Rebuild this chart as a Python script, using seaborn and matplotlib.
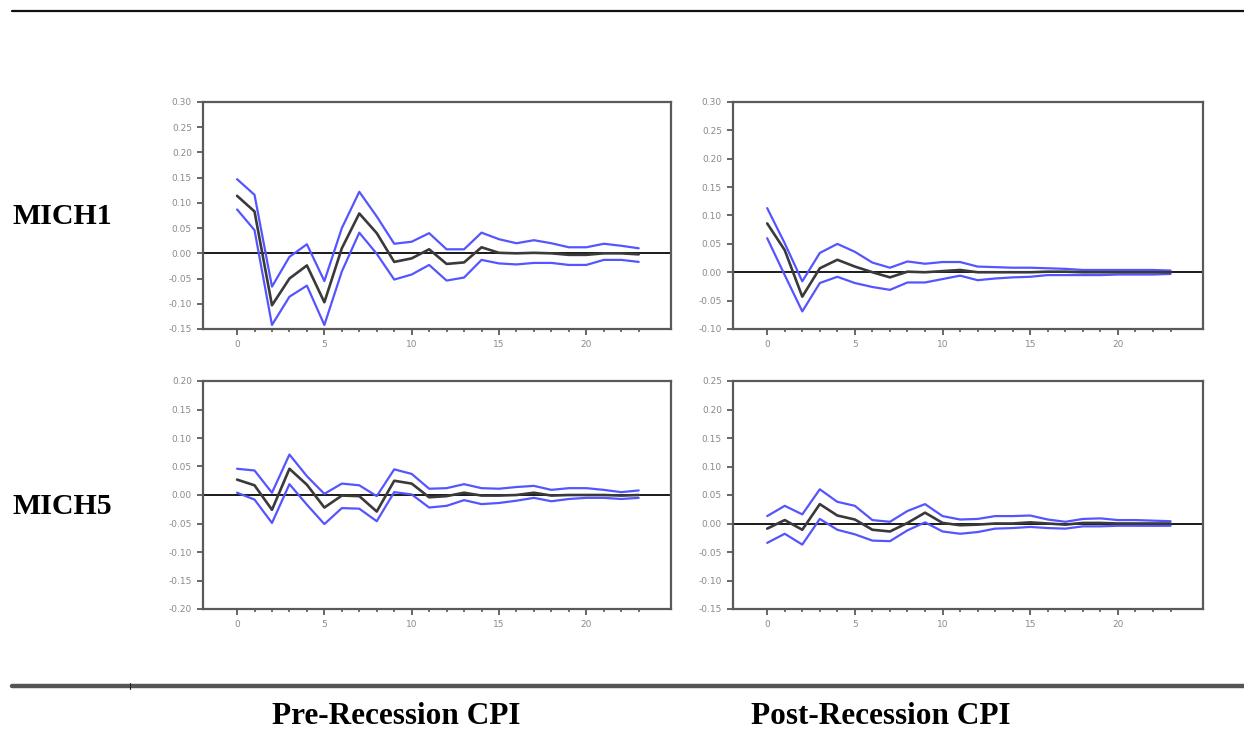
import numpy as np
import pandas as pd
import matplotlib
matplotlib.use("Agg")
import matplotlib.pyplot as plt
from matplotlib.lines import Line2D
from matplotlib.ticker import MultipleLocator, FormatStrFormatter
import seaborn as sns

horizon = list(range(24))

# MICH1, Pre-Recession CPI
m1_pre_mid = [0.114, 0.083, -0.103, -0.050, -0.024, -0.097, 0.010, 0.079, 0.040, -0.017, -0.010, 0.008,
              -0.021, -0.018, 0.012, 0.001, 0.000, 0.001, 0.000, -0.003, -0.003, 0.000, 0.000, -0.002]
m1_pre_up = [0.147, 0.116, -0.066, -0.007, 0.018, -0.055, 0.050, 0.122, 0.073, 0.019, 0.023, 0.040,
             0.008, 0.008, 0.041, 0.028, 0.020, 0.026, 0.020, 0.012, 0.012, 0.019, 0.015, 0.010]
m1_pre_lo = [0.087, 0.046, -0.142, -0.086, -0.064, -0.142, -0.036, 0.041, -0.001, -0.052, -0.042, -0.023,
             -0.054, -0.048, -0.013, -0.020, -0.022, -0.019, -0.019, -0.023, -0.023, -0.013, -0.013, -0.017]

# MICH1, Post-Recession CPI
m1_post_mid = [0.086, 0.039, -0.043, 0.007, 0.022, 0.010, 0.000, -0.009, 0.001, 0.000, 0.002, 0.004,
               0.000, 0.000, 0.000, 0.000, 0.001, 0.001, 0.000, 0.000, 0.000, 0.000, 0.000, 0.000]
m1_post_up = [0.113, 0.051, -0.016, 0.034, 0.050, 0.036, 0.017, 0.008, 0.019, 0.015, 0.018, 0.018,
              0.010, 0.009, 0.008, 0.008, 0.007, 0.006, 0.004, 0.004, 0.004, 0.004, 0.004, 0.003]
m1_post_lo = [0.060, -0.005, -0.069, -0.019, -0.008, -0.019, -0.026, -0.031, -0.018, -0.018, -0.012, -0.006,
              -0.014, -0.011, -0.009, -0.008, -0.005, -0.005, -0.005, -0.005, -0.004, -0.004, -0.004, -0.003]

# MICH5, Pre-Recession CPI
m5_pre_mid = [0.027, 0.017, -0.026, 0.046, 0.018, -0.022, -0.001, -0.002, -0.029, 0.025, 0.020, -0.004,
              -0.002, 0.004, -0.001, -0.001, 0.000, 0.004, -0.001, 0.000, 0.000, 0.000, -0.001, 0.000]
m5_pre_up = [0.046, 0.043, 0.004, 0.071, 0.033, 0.002, 0.020, 0.017, -0.002, 0.045, 0.037, 0.011,
             0.012, 0.019, 0.012, 0.011, 0.014, 0.016, 0.009, 0.012, 0.012, 0.009, 0.005, 0.008]
m5_pre_lo = [0.004, -0.008, -0.049, 0.019, -0.017, -0.051, -0.023, -0.024, -0.046, 0.005, 0.001, -0.022,
             -0.019, -0.009, -0.016, -0.014, -0.010, -0.005, -0.011, -0.007, -0.005, -0.005, -0.007, -0.005]

# MICH5, Post-Recession CPI
m5_post_mid = [-0.009, 0.006, -0.011, 0.034, 0.014, 0.007, -0.011, -0.014, 0.001, 0.019, 0.001, -0.003,
               -0.002, 0.000, 0.000, 0.002, 0.000, -0.002, 0.001, 0.001, 0.000, 0.000, 0.000, 0.000]
m5_post_up = [0.013, 0.031, 0.016, 0.060, 0.038, 0.031, 0.006, 0.003, 0.022, 0.034, 0.013, 0.007,
              0.008, 0.013, 0.013, 0.014, 0.007, 0.003, 0.008, 0.009, 0.006, 0.006, 0.005, 0.004]
m5_post_lo = [-0.034, -0.018, -0.037, 0.008, -0.011, -0.019, -0.030, -0.031, -0.012, 0.002, -0.014, -0.018,
              -0.015, -0.009, -0.008, -0.006, -0.008, -0.009, -0.005, -0.005, -0.004, -0.004, -0.004, -0.004]

row_labels = ["MICH1", "MICH5"]
col_labels = ["Pre-Recession CPI", "Post-Recession CPI"]
y_limits = [(-0.15, 0.30), (-0.10, 0.30), (-0.20, 0.20), (-0.15, 0.25)]

panels = [
    (m1_pre_mid, m1_pre_up, m1_pre_lo),
    (m1_post_mid, m1_post_up, m1_post_lo),
    (m5_pre_mid, m5_pre_up, m5_pre_lo),
    (m5_post_mid, m5_post_up, m5_post_lo),
]

sns.set_style("white")
plt.rcParams["font.family"] = ["DejaVu Sans"]

fig = plt.figure(figsize=(12.44, 7.31), dpi=100)

W, H = 1244, 731
boxes = [
    (203, 102, 671, 329),
    (733, 102, 1203, 329),
    (203, 381, 671, 609),
    (733, 381, 1203, 609),
]

frame_col = "#5a5a5a"
tick_col = "#8a8a8a"

for i, ((x0, y0, x1, y1), (mid, up, lo), ylim) in enumerate(zip(boxes, panels, y_limits)):
    ax = fig.add_axes([x0 / W, 1 - y1 / H, (x1 - x0) / W, (y1 - y0) / H])
    df = pd.DataFrame({"h": horizon, "mid": mid, "up": up, "lo": lo})
    ax.axhline(0, color="#1a1a1a", lw=1.4, zorder=1)
    sns.lineplot(data=df, x="h", y="up", ax=ax, color="#5555ff", lw=1.6, zorder=2)
    sns.lineplot(data=df, x="h", y="lo", ax=ax, color="#5555ff", lw=1.6, zorder=2)
    sns.lineplot(data=df, x="h", y="mid", ax=ax, color="#3a3a3a", lw=1.9, zorder=3)
    ax.set_xlim(-1.95, 24.85)
    ax.set_ylim(*ylim)
    ax.set_xlabel("")
    ax.set_ylabel("")
    ax.xaxis.set_major_locator(MultipleLocator(5))
    ax.yaxis.set_major_locator(MultipleLocator(0.05))
    ax.yaxis.set_major_formatter(FormatStrFormatter("%.2f"))
    ax.tick_params(axis="both", which="major", direction="out", length=4, width=1.3,
                   color=frame_col, labelsize=6.5, labelcolor=tick_col, pad=4,
                   bottom=True, left=True)
    ax.tick_params(axis="x", which="minor", direction="out", length=2.5, width=1.2,
                   color=frame_col, bottom=True)
    ax.set_xticks(horizon, minor=True)
    ax.set_xticks([0, 5, 10, 15, 20])
    for s in ax.spines.values():
        s.set_color(frame_col)
        s.set_linewidth(1.6)
        s.set_visible(True)

# Rules
fig.add_artist(Line2D([12 / W, 1.0], [1 - 10.5 / H, 1 - 10.5 / H], color="#111111", lw=1.6))
fig.add_artist(Line2D([12 / W, 1.0], [1 - 686 / H, 1 - 686 / H], color="#555555", lw=3.2))
fig.add_artist(Line2D([130 / W, 130 / W], [1 - 683 / H, 1 - 689 / H], color="#222222", lw=0.8))

serif = ["Liberation Serif", "DejaVu Serif"]
fig.text(12 / W, 1 - 216 / H, row_labels[0], family=serif, fontweight="bold", fontsize=21.5,
         ha="left", va="center", color="black")
fig.text(12 / W, 1 - 506 / H, row_labels[1], family=serif, fontweight="bold", fontsize=21.5,
         ha="left", va="center", color="black")
fig.text(396 / W, 1 - 716 / H, col_labels[0], family=serif, fontweight="bold", fontsize=22.5,
         ha="center", va="center", color="black")
fig.text(881 / W, 1 - 716 / H, col_labels[1], family=serif, fontweight="bold", fontsize=22.5,
         ha="center", va="center", color="black")

fig.savefig("out.png", dpi=100)
